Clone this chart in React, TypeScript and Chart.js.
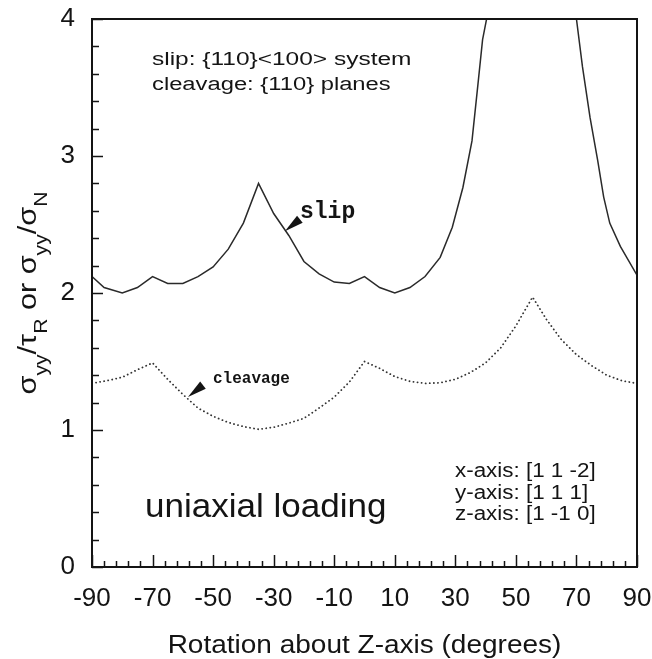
import React, { useEffect, useRef } from 'react';
import { Chart, registerables } from 'chart.js';

Chart.register(...registerables);

// ---- data ----
const slipX = [-90, -86, -80, -75, -70, -65, -60, -55, -50, -45, -40, -35, -30, -25, -20, -15, -10, -5, 0, 5, 10, 15, 20, 25, 29, 32.5, 35.5, 37.5, 39, 40.5, 42, 55, 68, 70, 72, 74.5, 77, 79, 81, 84.5, 90];
const slipY = [2.12, 2.04, 2.0, 2.04, 2.12, 2.07, 2.07, 2.12, 2.19, 2.32, 2.51, 2.8, 2.58, 2.42, 2.23, 2.14, 2.08, 2.07, 2.12, 2.04, 2.0, 2.04, 2.12, 2.26, 2.48, 2.77, 3.11, 3.53, 3.85, 4.02, 4.4, 9.0, 4.3, 4.0, 3.65, 3.28, 2.97, 2.7, 2.51, 2.34, 2.13];

const cleavX = [-90, -85, -80, -75, -70, -65, -60, -55, -50, -45, -40, -35, -30, -25, -20, -15, -10, -5, 0, 5, 10, 15, 20, 25, 30, 35, 40, 45, 50, 55.5, 60, 65, 70, 75, 80, 85, 90];
const cleavY = [1.34, 1.36, 1.385, 1.44, 1.49, 1.37, 1.26, 1.16, 1.1, 1.055, 1.025, 1.005, 1.02, 1.05, 1.085, 1.16, 1.24, 1.35, 1.5, 1.45, 1.39, 1.355, 1.34, 1.345, 1.37, 1.42, 1.49, 1.6, 1.76, 1.97, 1.81, 1.66, 1.55, 1.47, 1.4, 1.36, 1.34];

const xTickValues = [-90, -70, -50, -30, -10, 10, 30, 50, 70, 90];
const yTickValues = [0, 1, 2, 3, 4];

const xTitle = 'Rotation about Z-axis (degrees)';
const infoLines = ['slip: {110}<100> system', 'cleavage: {110} planes'];
const axisLines = ['x-axis: [1 1 -2]', 'y-axis: [1 1 1]', 'z-axis: [1 -1 0]'];
const loadingText = 'uniaxial loading';
const slipLabel = 'slip';
const cleavLabel = 'cleavage';
// arrow tips in data coordinates
const slipArrowTip = { x: -26.3, y: 2.45 };
const cleavArrowTip = { x: -58.3, y: 1.24 };

const SANS = "'Liberation Sans', Arial, Helvetica, sans-serif";
const MONO = "'Liberation Mono', 'Courier New', monospace";
const INK = '#141414';

// draws text horizontally stretched by factor sx (text stays real text)
function drawText(ctx: CanvasRenderingContext2D, text: string, x: number, y: number, font: string, sx: number, align: 'left' | 'center' = 'left') {
  ctx.save();
  ctx.font = font;
  ctx.textAlign = align;
  ctx.textBaseline = 'alphabetic';
  ctx.translate(x, y);
  ctx.scale(sx, 1);
  ctx.fillText(text, 0, 0);
  ctx.restore();
}

const overlay = {
  id: 'overlay',
  afterDraw(chart: any) {
    const ctx = chart.ctx as CanvasRenderingContext2D;
    const xs = chart.scales.x;
    const ys = chart.scales.y;
    const a = chart.chartArea;
    ctx.save();
    ctx.strokeStyle = INK;
    ctx.fillStyle = INK;

    // inward ticks
    ctx.lineWidth = 1.5;
    ctx.beginPath();
    for (let v = 0; v <= 4.0001; v += 0.2) {
      const major = Math.abs(v - Math.round(v)) < 1e-6;
      const py = Math.round(ys.getPixelForValue(v)) + 0.5;
      ctx.moveTo(a.left, py);
      ctx.lineTo(a.left + (major ? 11 : 7), py);
    }
    for (let v = -90; v <= 90; v += 4) {
      const major = (v + 90) % 20 === 0;
      const px = Math.round(xs.getPixelForValue(v)) + 0.5;
      ctx.moveTo(px, a.bottom);
      ctx.lineTo(px, a.bottom - (major ? 12 : 6));
    }
    ctx.stroke();

    // frame
    ctx.lineWidth = 2;
    ctx.strokeRect(a.left, a.top, a.right - a.left, a.bottom - a.top);

    // texts
    drawText(ctx, infoLines[0], 152, 65, `18px ${SANS}`, 1.36);
    drawText(ctx, infoLines[1], 152, 90, `18px ${SANS}`, 1.32);
    drawText(ctx, loadingText, 145, 517, `34px ${SANS}`, 1.03);
    axisLines.forEach((t, i) => drawText(ctx, t, 455, 477 + i * 21.5, `20px ${SANS}`, 1.12));
    drawText(ctx, slipLabel, 300, 218, `bold 23px ${MONO}`, 1.0);
    drawText(ctx, cleavLabel, 213, 383, `bold 16px ${MONO}`, 1.0);

    // arrows
    const arrow = (tip: { x: number; y: number }, dx: number, dy: number) => {
      const tx = xs.getPixelForValue(tip.x);
      const ty = ys.getPixelForValue(tip.y);
      const bx = tx + dx;
      const by = ty + dy;
      const len = Math.hypot(dx, dy);
      const nx = -dy / len;
      const ny = dx / len;
      const hw = 4.5;
      ctx.beginPath();
      ctx.moveTo(tx, ty);
      ctx.lineTo(bx + nx * hw, by + ny * hw);
      ctx.lineTo(bx - nx * hw, by - ny * hw);
      ctx.closePath();
      ctx.fill();
    };
    arrow(slipArrowTip, 15, -12);
    arrow(cleavArrowTip, 15, -12);

    // x title
    drawText(ctx, xTitle, (a.left + a.right) / 2, 653, `25px ${SANS}`, 1.12, 'center');

    // y title with subscripts, rotated
    const parts: [string, boolean][] = [
      ['σ', false], ['yy', true], ['/', false], ['τ', false], ['R', true],
      [' or ', false], ['σ', false], ['yy', true], ['/', false], ['σ', false], ['N', true],
    ];
    const mainFont = `26px ${SANS}`;
    const subFont = `18px ${SANS}`;
    let total = 0;
    const widths = parts.map(([t, sub]) => {
      ctx.font = sub ? subFont : mainFont;
      const w = ctx.measureText(t).width;
      total += w;
      return w;
    });
    const stretch = 203 / total;
    ctx.translate(36, (a.top + a.bottom) / 2);
    ctx.rotate(-Math.PI / 2);
    ctx.scale(stretch, 1);
    ctx.textAlign = 'left';
    ctx.textBaseline = 'alphabetic';
    let cx = -total / 2;
    parts.forEach(([t, sub], i) => {
      ctx.font = sub ? subFont : mainFont;
      ctx.fillText(t, cx, sub ? 11 : 0);
      cx += widths[i];
    });
    ctx.restore();
  },
};

export default function App() {
  const ref = useRef<HTMLCanvasElement>(null);
  useEffect(() => {
    document.body.style.margin = '0';
    const chart = new Chart(ref.current as HTMLCanvasElement, {
      type: 'scatter',
      data: {
        datasets: [
          {
            label: 'slip',
            data: slipX.map((x, i) => ({ x, y: slipY[i] })),
            showLine: true,
            borderColor: '#2a2a2a',
            borderWidth: 1.5,
            pointRadius: 0,
            tension: 0,
          },
          {
            label: 'cleavage',
            data: cleavX.map((x, i) => ({ x, y: cleavY[i] })),
            showLine: true,
            borderColor: '#333333',
            borderWidth: 1.8,
            borderDash: [0.1, 4],
            borderCapStyle: 'round',
            pointRadius: 0,
            tension: 0,
          },
        ],
      },
      options: {
        responsive: false,
        animation: false,
        events: [],
        layout: { padding: { left: 0, right: 15, top: 19, bottom: 0 } },
        plugins: { legend: { display: false }, tooltip: { enabled: false }, title: { display: false } },
        scales: {
          x: {
            type: 'linear',
            min: -90,
            max: 90,
            afterBuildTicks: (s: any) => {
              s.ticks = xTickValues.map((v) => ({ value: v }));
            },
            afterFit: (s: any) => {
              s.height = 92;
              s.paddingLeft = 0;
              s.paddingRight = 0;
            },
            grid: { display: false, drawTicks: false },
            border: { display: false },
            ticks: {
              autoSkip: false,
              maxRotation: 0,
              padding: 16,
              color: INK,
              font: { family: SANS, size: 26 },
            },
          },
          y: {
            type: 'linear',
            min: 0,
            max: 4,
            afterBuildTicks: (s: any) => {
              s.ticks = yTickValues.map((v) => ({ value: v }));
            },
            afterFit: (s: any) => {
              s.width = 92;
              s.paddingTop = 0;
              s.paddingBottom = 0;
            },
            grid: { display: false, drawTicks: false },
            border: { display: false },
            ticks: {
              padding: 17,
              color: INK,
              font: { family: SANS, size: 26 },
            },
          },
        },
      },
      plugins: [overlay],
    } as any);
    return () => chart.destroy();
  }, []);
  return <canvas ref={ref} width={652} height={659} style={{ display: 'block' }} />;
}
